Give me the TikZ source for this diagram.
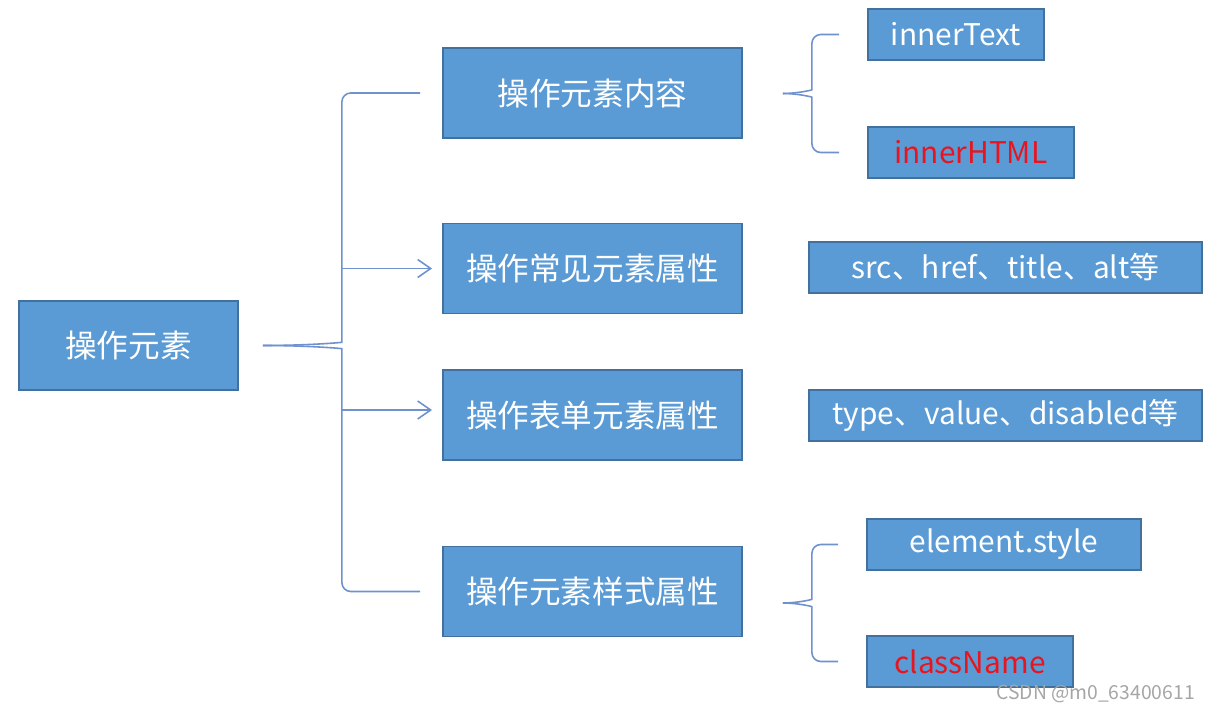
\documentclass[tikz,border=0pt]{standalone}
\usepackage{fontspec}
\setmainfont{Noto Sans CJK SC}
\usepackage{tikz}
\usetikzlibrary{positioning,arrows.meta,calc}
\definecolor{boxfill}{HTML}{5B9BD5}
\definecolor{boxline}{HTML}{41719C}
\definecolor{bracecol}{HTML}{6F91CE}
\definecolor{hotred}{HTML}{E8141E}

\begin{document}
\begin{tikzpicture}[x=0.02cm,y=-0.02cm,
	box/.style={draw=boxline,fill=boxfill,line width=1.1pt,inner sep=0pt,text=white,font=\fontsize{18pt}{22pt}\selectfont},
	leaf/.style={box,minimum height=1.02cm,font=\fontsize{17pt}{20pt}\selectfont},
	brace/.style={draw=bracecol,line width=0.9pt,rounded corners=5pt},
	conn/.style={draw=bracecol,line width=0.9pt,-{Straight Barb[length=0.26cm,width=0.36cm]},shorten >=0.2cm}]
	
	\fill[white] (0,0) rectangle (1213,715);
	\useasboundingbox (0,0) rectangle (1213,715);
	
	% root and first level
	\node[box,minimum width=4.38cm,minimum height=1.78cm] (root) at (128.5,345.5) {操作元素};
	\node[box,minimum width=5.98cm,minimum height=1.8cm] (b1) at (592.5,93) {操作元素内容};
	\node[box,minimum width=5.98cm,minimum height=1.8cm] (b2) at (592.5,268.5) {操作常见元素属性};
	\node[box,minimum width=5.98cm,minimum height=1.8cm] (b3) at (592.5,415) {操作表单元素属性};
	\node[box,minimum width=5.98cm,minimum height=1.8cm] (b4) at (592.5,591.5) {操作元素样式属性};
	
	% leaves
	\node[leaf,minimum width=3.52cm] (it) at (956,34.5) {innerText};
	\node[leaf,minimum width=4.12cm,text=hotred] (ih) at (971,152.5) {innerHTML};
	\node[leaf,minimum width=7.86cm] (attr) at (1005.5,267.5) {src、href、title、alt等};
	\node[leaf,minimum width=7.86cm] (form) at (1005.5,415.5) {type、value、disabled等};
	\node[leaf,minimum width=5.48cm] (es) at (1004,544.5) {element.style};
	\node[leaf,minimum width=4.12cm,text=hotred] (cn) at (970,661.5) {className};
	
	\node[anchor=east,text=black!35,font=\fontsize{11pt}{13pt}\selectfont] (mark) at (1201,694) {CSDN @m0\_63400611};
	
	% brace points
	\coordinate (t0) at ([xshift=0.48cm]root.east);
	\coordinate (v0) at ($(t0)+(1.58cm,0)$);
	\coordinate (m1) at ($(it.west)!0.5!(ih.west)$);
	\coordinate (t1) at ($(b1.east |- m1)+(0.8cm,0)$);
	\coordinate (v1) at ($(t1)+(0.58cm,0)$);
	\coordinate (m2) at ($(es.west)!0.5!(cn.west)$);
	\coordinate (t2) at ($(b4.east |- m2)+(0.8cm,0)$);
	\coordinate (v2) at ($(t2)+(0.58cm,0)$);
	
	\draw[brace] ([xshift=-0.44cm]b1.west) -| ([yshift=0.24cm]v0)
		to[out=-90,in=0,out distance=0.18cm,in distance=0.9cm] (t0);
	\draw[brace] (t0) to[out=0,in=90,out distance=0.9cm,in distance=0.18cm] ([yshift=-0.24cm]v0)
		|- ([xshift=-0.44cm]b4.west);
	\draw[conn] (v0 |- b2.west) -- (b2.west);
	\draw[conn] ([yshift=0.1cm]v0 |- b3.west) -- ([yshift=0.1cm]b3.west);
	
	\draw[brace] ([xshift=-0.56cm]it.west) -| ([yshift=0.25cm]v1)
		to[out=-90,in=0,out distance=0.18cm,in distance=0.3cm] (t1);
	\draw[brace] (t1) to[out=0,in=90,out distance=0.3cm,in distance=0.18cm] ([yshift=-0.25cm]v1)
		|- ([xshift=-0.56cm]ih.west);
	\draw[brace] ([xshift=-0.56cm]es.west) -| ([yshift=0.25cm]v2)
		to[out=-90,in=0,out distance=0.18cm,in distance=0.3cm] (t2);
	\draw[brace] (t2) to[out=0,in=90,out distance=0.3cm,in distance=0.18cm] ([yshift=-0.25cm]v2)
		|- ([xshift=-0.56cm]cn.west);
	
\end{tikzpicture}
\end{document}
